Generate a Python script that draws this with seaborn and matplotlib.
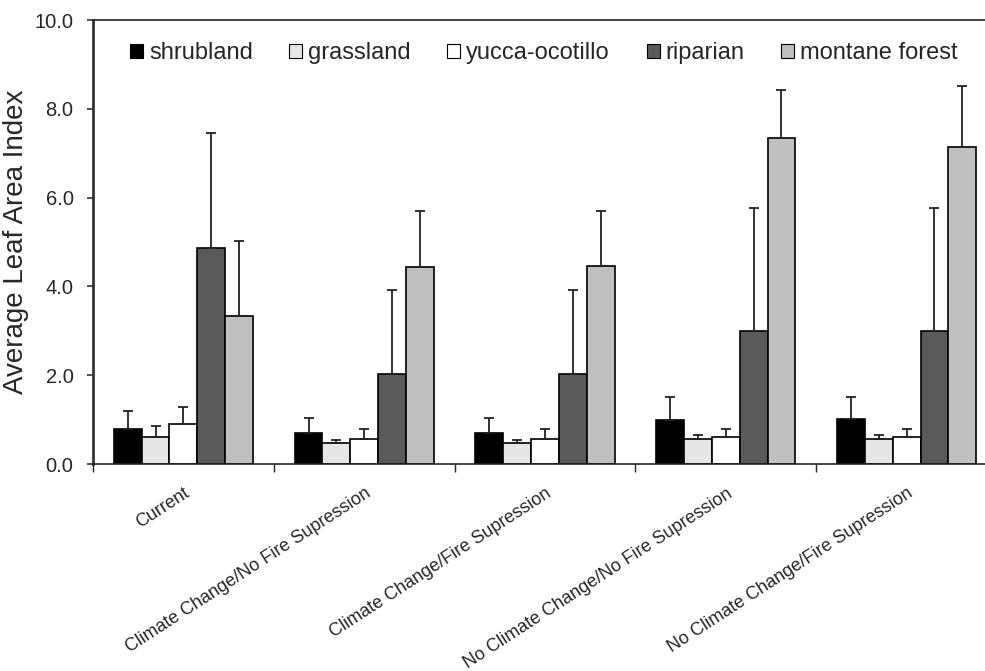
import matplotlib
matplotlib.use("Agg")
import matplotlib.pyplot as plt
from matplotlib.patches import Patch
import seaborn as sns
import pandas as pd
import numpy as np

scenarios = ["Current", "Climate Change/No Fire Supression", "Climate Change/Fire Supression",
             "No Climate Change/No Fire Supression", "No Climate Change/Fire Supression"]
habitats = ["shrubland", "grassland", "yucca-ocotillo", "riparian", "montane forest"]

shrubland = [0.78, 0.70, 0.70, 0.98, 1.01]
grassland = [0.60, 0.47, 0.47, 0.56, 0.56]
yucca = [0.91, 0.56, 0.56, 0.60, 0.60]
riparian = [4.86, 2.02, 2.02, 3.00, 3.00]
montane = [3.33, 4.44, 4.46, 7.34, 7.14]

shrubland_err = [0.42, 0.33, 0.33, 0.53, 0.50]
grassland_err = [0.26, 0.06, 0.06, 0.09, 0.09]
yucca_err = [0.37, 0.22, 0.22, 0.18, 0.18]
riparian_err = [2.59, 1.89, 1.89, 2.76, 2.76]
montane_err = [1.69, 1.26, 1.24, 1.08, 1.37]

colors = ["#000000", "#e6e6e6", "#ffffff", "#5a5a5a", "#c0c0c0"]

values = [shrubland, grassland, yucca, riparian, montane]
errors = [shrubland_err, grassland_err, yucca_err, riparian_err, montane_err]

rows = []
for h, vals in zip(habitats, values):
    for s, v in zip(scenarios, vals):
        rows.append({"scenario": s, "habitat": h, "value": v})
df = pd.DataFrame(rows)

sns.set_style("white")
plt.rcParams["font.family"] = ["Liberation Sans", "DejaVu Sans"]

fig = plt.figure(figsize=(9.85, 6.71), dpi=100)
ax = fig.add_axes([93 / 985, 1 - 464 / 671, (997 - 93) / 985, (464 - 20) / 671])

sns.barplot(data=df, x="scenario", y="value", hue="habitat", order=scenarios,
            hue_order=habitats, palette=dict(zip(habitats, colors)),
            edgecolor="black", linewidth=1.2, width=0.77, errorbar=None,
            legend=False, ax=ax)

for cont, err in zip(ax.containers, errors):
    xs = [b.get_x() + b.get_width() / 2 for b in cont]
    hs = [b.get_height() for b in cont]
    ax.errorbar(xs, hs, yerr=[np.zeros(len(err)), err], fmt="none",
                ecolor="#222222", elinewidth=1.3, capsize=3.5, capthick=1.3, zorder=1)

ax.set_xlim(-0.5, 4.5)
ax.set_ylim(0, 10)
ax.set_yticks(np.arange(0, 10.1, 2))
ax.set_yticklabels([f"{v:.1f}" for v in np.arange(0, 10.1, 2)], fontsize=14.5)
ax.tick_params(axis="y", direction="out", length=4, width=1.2, pad=10, left=True, color="#333333")

ax.set_xticks(range(len(scenarios)))
ax.set_xticklabels(scenarios, rotation=33, ha="right", rotation_mode="anchor", fontsize=13)
ax.tick_params(axis="x", which="major", length=0, pad=15)
ax.set_xticks(np.arange(-0.5, 4.6, 1), minor=True)
ax.tick_params(axis="x", which="minor", direction="out", length=6, width=1, bottom=True)
ax.set_xlabel("")

ax.set_ylabel("Average Leaf Area Index", fontsize=20, labelpad=4)

for side in ["left", "bottom", "top"]:
    ax.spines[side].set_visible(True)
    ax.spines[side].set_color("#222222")
    ax.spines[side].set_linewidth(1.2)
ax.spines["left"].set_color("#333333")
ax.spines["left"].set_linewidth(2)
ax.spines["right"].set_visible(False)

handles = [Patch(facecolor=c, edgecolor="black", linewidth=0.8) for c in colors]
fig.legend(handles, habitats, loc="center left", bbox_to_anchor=(130 / 985, 1 - 53 / 671),
           ncol=5, frameon=False, fontsize=17, handlelength=0.55, handleheight=0.55,
           handletextpad=0.25, columnspacing=1.55, borderpad=0, borderaxespad=0)

fig.savefig("out.png", dpi=100)
